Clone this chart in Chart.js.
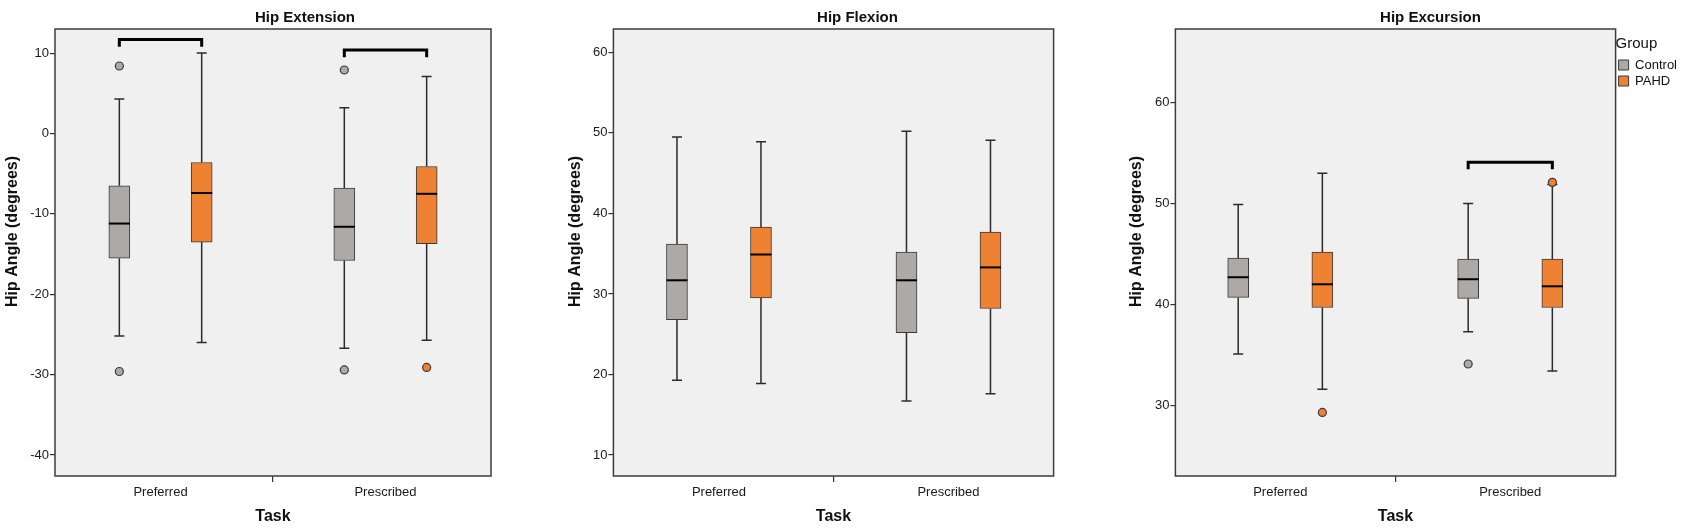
<!DOCTYPE html>
<html>
<head>
<meta charset="utf-8">
<script src="https://cdn.jsdelivr.net/npm/chart.js@4.4.1/dist/chart.umd.min.js"></script>
<style>
  body { margin: 0; background: #fff; }
  #wrap { position: relative; width: 1687px; height: 529px; overflow: hidden; }
  canvas { position: absolute; top: 0; }
</style>
</head>
<body>
<div id="wrap">
  <canvas id="ext" width="560" height="529" style="left:0px"></canvas>
  <canvas id="flex" width="550" height="529" style="left:560px"></canvas>
  <canvas id="exc" width="577" height="529" style="left:1110px"></canvas>
</div>
<script>
var tasks = ['Preferred', 'Prescribed'];
var groups = ['Control', 'PAHD'];

// per task: [lower whisker, Q1, median, Q3, upper whisker]
var extControl = [[-25.2, -15.5, -11.2, -6.5, 4.3], [-26.7, -15.8, -11.6, -6.8, 3.2]];
var extPAHD = [[-26.0, -13.5, -7.4, -3.6, 10.0], [-25.7, -13.7, -7.5, -4.1, 7.1]];
var extControlOut = [[8.4, -29.6], [7.9, -29.4]];
var extPAHDOut = [[], [-29.1]];
var extBracket = [11.7, 10.4];
var extBracketEnd = [10.8, 9.5];
var extTicks = [-40, -30, -20, -10, 0, 10];
var extRange = [-42.6, 13.0];

var flexControl = [[19.3, 26.8, 31.7, 36.2, 49.5], [16.7, 25.2, 31.7, 35.2, 50.2]];
var flexPAHD = [[18.9, 29.5, 34.9, 38.3, 48.9], [17.6, 28.2, 33.3, 37.7, 49.1]];
var flexControlOut = [[], []];
var flexPAHDOut = [[], []];
var flexBracket = [null, null];
var flexBracketEnd = [null, null];
var flexTicks = [10, 20, 30, 40, 50, 60];
var flexRange = [7.4, 62.9];

var excControl = [[35.1, 40.7, 42.7, 44.6, 49.9], [37.3, 40.6, 42.5, 44.5, 50.0]];
var excPAHD = [[31.6, 39.7, 42.0, 45.2, 53.0], [33.4, 39.7, 41.8, 44.5, 51.9]];
var excControlOut = [[], [34.1]];
var excPAHDOut = [[29.3], [52.1]];
var excBracket = [null, 54.1];
var excBracketEnd = [null, 53.4];
var excTicks = [30, 40, 50, 60];
var excRange = [23.0, 67.3];

var FONT = 'Arial, "Liberation Sans", sans-serif';
var COLORS = ['#aca9a7', '#ef8132'];
var EDGE = '#3a3a3a';
var GAP = 0.183; // distance of each group from the task centre (x units)

Chart.defaults.font.family = FONT;
Chart.defaults.color = '#1a1a1a';

// grey plot background, frame, panel title and y title
var frame = {
  id: 'frame',
  beforeDraw: function(chart) {
    var a = chart.chartArea, ctx = chart.ctx;
    ctx.save();
    ctx.fillStyle = '#f0f0f0';
    ctx.fillRect(a.left, a.top, a.right - a.left, a.bottom - a.top);
    ctx.restore();
  },
  afterDraw: function(chart, args, o) {
    var a = chart.chartArea, ctx = chart.ctx;
    ctx.save();
    ctx.strokeStyle = '#3c3c3c';
    ctx.lineWidth = 1.5;
    ctx.strokeRect(a.left, a.top, a.right - a.left, a.bottom - a.top);
    ctx.fillStyle = '#111';
    ctx.font = 'bold 15px ' + FONT;
    ctx.textAlign = 'center';
    ctx.textBaseline = 'middle';
    ctx.fillText(o.title, (a.left + a.right) / 2 + o.shift, 18);
    // y title sits a little above the middle of the plot, as in SPSS
    ctx.font = 'bold 16px ' + FONT;
    ctx.translate(chart.scales.y.left + 12.6, (a.top + a.bottom) / 2 - 21);
    ctx.rotate(-Math.PI / 2);
    ctx.fillText(o.yTitle, 0, 0);
    ctx.restore();
  }
};

// whiskers under the boxes, medians on top
var whiskers = {
  id: 'whiskers',
  beforeDatasetsDraw: function(chart) {
    var ctx = chart.ctx, xs = chart.scales.x, ys = chart.scales.y;
    ctx.save();
    ctx.strokeStyle = '#2b2b2b';
    ctx.lineWidth = 1.5;
    chart.data.datasets.forEach(function(ds) {
      if (!ds.stats) return;
      ds.stats.forEach(function(s, i) {
        var px = xs.getPixelForValue(ds.data[i].x);
        ctx.beginPath();
        ctx.moveTo(px, ys.getPixelForValue(s[0]));
        ctx.lineTo(px, ys.getPixelForValue(s[1]));
        ctx.moveTo(px, ys.getPixelForValue(s[3]));
        ctx.lineTo(px, ys.getPixelForValue(s[4]));
        ctx.moveTo(px - 5, ys.getPixelForValue(s[0]));
        ctx.lineTo(px + 5, ys.getPixelForValue(s[0]));
        ctx.moveTo(px - 5, ys.getPixelForValue(s[4]));
        ctx.lineTo(px + 5, ys.getPixelForValue(s[4]));
        ctx.stroke();
      });
    });
    ctx.restore();
  },
  afterDatasetsDraw: function(chart) {
    var ctx = chart.ctx, ys = chart.scales.y;
    ctx.save();
    ctx.strokeStyle = '#000';
    ctx.lineWidth = 2;
    chart.data.datasets.forEach(function(ds, di) {
      if (!ds.stats) return;
      var bars = chart.getDatasetMeta(di).data;
      ds.stats.forEach(function(s, i) {
        var b = bars[i], py = ys.getPixelForValue(s[2]);
        ctx.beginPath();
        ctx.moveTo(b.x - b.width / 2, py);
        ctx.lineTo(b.x + b.width / 2, py);
        ctx.stroke();
      });
    });
    ctx.restore();
  }
};

function xPos(task, g) { return task + 1 + (g ? GAP : -GAP); }

function buildSets(ctrl, pahd, ctrlOut, pahdOut, bTop, bEnd) {
  var sets = [];
  [ctrl, pahd].forEach(function(stats, g) {
    sets.push({
      label: groups[g],
      stats: stats,
      data: stats.map(function(s, t) { return {x: xPos(t, g), y: [s[1], s[3]]}; }),
      backgroundColor: COLORS[g],
      borderColor: EDGE,
      borderWidth: 1,
      borderSkipped: false,
      barThickness: 21,
      grouped: false
    });
  });
  [ctrlOut, pahdOut].forEach(function(outs, g) {
    var pts = [];
    outs.forEach(function(list, t) {
      list.forEach(function(v) { pts.push({x: xPos(t, g), y: v}); });
    });
    sets.push({
      type: 'scatter', label: groups[g] + ' outliers', data: pts,
      pointRadius: 4, backgroundColor: COLORS[g], borderColor: EDGE, borderWidth: 1.2
    });
  });
  bTop.forEach(function(top, t) {
    if (top == null) return;
    sets.push({
      type: 'line', label: 'bracket',
      data: [{x: xPos(t, 0), y: bEnd[t]}, {x: xPos(t, 0), y: top},
             {x: xPos(t, 1), y: top}, {x: xPos(t, 1), y: bEnd[t]}],
      borderColor: '#000', borderWidth: 3, pointRadius: 0, fill: false, tension: 0,
      borderJoinStyle: 'miter'
    });
  });
  return sets;
}

function axisGrid(len) {
  return { drawOnChartArea: false, drawTicks: true, tickLength: len, color: '#333', lineWidth: 1.2 };
}

function makeChart(id, title, shift, sets, ticks, range, xr, pad, axisW, showLegend) {
  return new Chart(document.getElementById(id), {
    type: 'bar',
    data: { datasets: sets },
    plugins: [frame, whiskers],
    options: {
      responsive: false,
      animation: false,
      events: [],
      layout: { padding: pad },
      scales: {
        x: {
          type: 'linear', min: xr[0], max: xr[1], offset: false,
          afterBuildTicks: function(s) { s.ticks = tasks.map(function(t, i) { return {value: i + 1}; }); },
          ticks: {
            callback: function(v) { return tasks[v - 1]; },
            font: { size: 13 }, color: '#1a1a1a', padding: 3, maxRotation: 0, autoSkip: false
          },
          grid: axisGrid(6),
          border: { display: false },
          title: { display: true, text: 'Task', font: { size: 16, weight: 'bold' }, color: '#111', padding: { top: 4, bottom: 3 } },
          afterFit: function(s) { s.height = 53; }
        },
        y: {
          type: 'linear', min: range[0], max: range[1],
          afterBuildTicks: function(s) { s.ticks = ticks.map(function(v) { return {value: v}; }); },
          ticks: { font: { size: 13 }, color: '#1a1a1a', padding: 1 },
          grid: axisGrid(5),
          border: { display: false },
          title: { display: false },
          afterFit: function(s) { s.width = axisW; }
        }
      },
      plugins: {
        frame: { title: title, shift: shift, yTitle: 'Hip Angle (degrees)' },
        tooltip: { enabled: false },
        legend: {
          display: showLegend, position: 'right', align: 'start',
          title: { display: true, text: 'Group', position: 'start', font: { size: 15 }, color: '#111', padding: { top: 7.5, bottom: 1 } },
          labels: {
            boxWidth: 10, boxHeight: 10, padding: 3, font: { size: 13 }, color: '#111',
            filter: function(item, data) { return !!data.datasets[item.datasetIndex].stats; }
          }
        }
      }
    }
  });
}

makeChart('ext', 'Hip Extension', 32,
  buildSets(extControl, extPAHD, extControlOut, extPAHDOut, extBracket, extBracketEnd),
  extTicks, extRange, [0.531, 2.469], { left: 0, right: 69, top: 29, bottom: 0 }, 55, false);

makeChart('flex', 'Hip Flexion', 24,
  buildSets(flexControl, flexPAHD, flexControlOut, flexPAHDOut, flexBracket, flexBracketEnd),
  flexTicks, flexRange, [0.54, 2.458], { left: 3.4, right: 56.4, top: 29, bottom: 0 }, 50, false);

makeChart('exc', 'Hip Excursion', 35,
  buildSets(excControl, excPAHD, excControlOut, excPAHDOut, excBracket, excBracketEnd),
  excTicks, excRange, [0.544, 2.458], { left: 14.4, right: 0, top: 29, bottom: 0 }, 51, true);
</script>
</body>
</html>
